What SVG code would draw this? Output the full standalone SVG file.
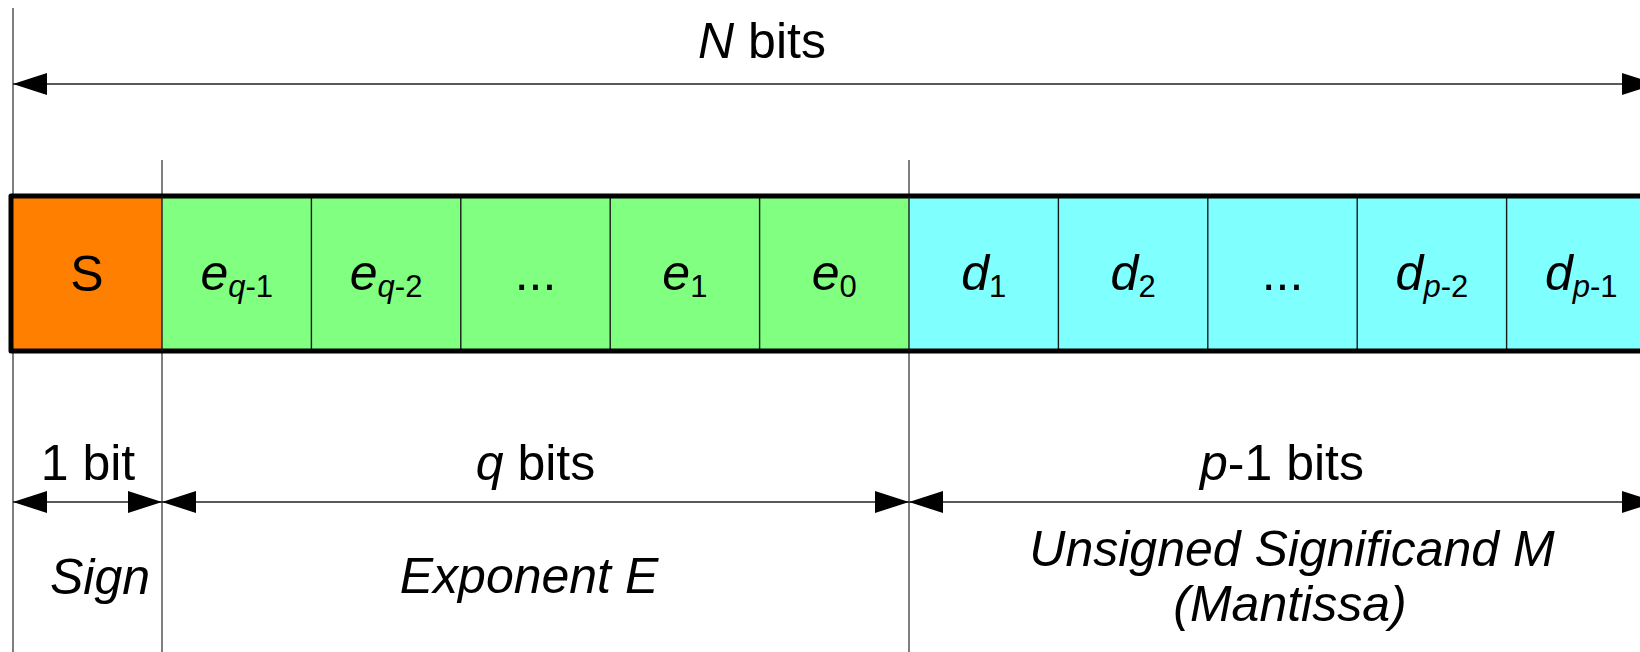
<svg xmlns="http://www.w3.org/2000/svg" width="1640" height="652" viewBox="0 0 1640 652">
<style>
text{font-family:"Liberation Sans",Arial,sans-serif;font-size:50px;fill:#000}
.i{font-style:italic}
.sub{font-size:31px}
.ext{stroke:#555;stroke-width:1.5;fill:none}
.dim{stroke:#222;stroke-width:1.6;fill:none;marker-start:url(#ah);marker-end:url(#ah)}
.div{stroke:#1a1a1a;stroke-width:1.4}
</style>
<defs>
<marker id="ah" viewBox="0 0 34 22" refX="34" refY="11" markerWidth="34" markerHeight="22" markerUnits="userSpaceOnUse" orient="auto-start-reverse">
<path d="M0,0 L34,11 L0,22 Z" fill="#000"/>
</marker>
</defs>
<g id="connectors">
<line class="ext" x1="13" y1="8" x2="13" y2="652"/>
<line class="ext" x1="162" y1="160" x2="162" y2="652"/>
<line class="ext" x1="909" y1="160" x2="909" y2="652"/>
<line class="ext" x1="1656" y1="8" x2="1656" y2="652"/>
<line class="dim" x1="13" y1="84" x2="1656" y2="84"/>
<line class="dim" x1="13" y1="502" x2="162" y2="502"/>
<line class="dim" x1="162" y1="502" x2="909" y2="502"/>
<line class="dim" x1="909" y1="502" x2="1656" y2="502"/>
</g>
<g id="sign">
<rect x="11" y="196" width="151" height="155" fill="#FF8000"/>
<text x="87" y="291" text-anchor="middle">S</text>
</g>
<g id="exponent">
<rect x="162" y="196" width="747" height="155" fill="#80FF80"/>
<line class="div" x1="311.4" y1="196" x2="311.4" y2="351"/>
<line class="div" x1="460.8" y1="196" x2="460.8" y2="351"/>
<line class="div" x1="610.2" y1="196" x2="610.2" y2="351"/>
<line class="div" x1="759.6" y1="196" x2="759.6" y2="351"/>
<text x="236.7" y="290" text-anchor="middle"><tspan class="i">e</tspan><tspan class="sub" dy="7"><tspan class="i">q</tspan>-1</tspan></text>
<text x="386.1" y="290" text-anchor="middle"><tspan class="i">e</tspan><tspan class="sub" dy="7"><tspan class="i">q</tspan>-2</tspan></text>
<text x="535.5" y="290" text-anchor="middle">...</text>
<text x="684.9" y="290" text-anchor="middle"><tspan class="i">e</tspan><tspan class="sub" dy="7">1</tspan></text>
<text x="834.3" y="290" text-anchor="middle"><tspan class="i">e</tspan><tspan class="sub" dy="7">0</tspan></text>
</g>
<g id="mantissa">
<rect x="909" y="196" width="747" height="155" fill="#80FFFF"/>
<line class="div" x1="1058.4" y1="196" x2="1058.4" y2="351"/>
<line class="div" x1="1207.8" y1="196" x2="1207.8" y2="351"/>
<line class="div" x1="1357.2" y1="196" x2="1357.2" y2="351"/>
<line class="div" x1="1506.6" y1="196" x2="1506.6" y2="351"/>
<text x="983.7" y="290" text-anchor="middle"><tspan class="i">d</tspan><tspan class="sub" dy="7">1</tspan></text>
<text x="1133.1" y="290" text-anchor="middle"><tspan class="i">d</tspan><tspan class="sub" dy="7">2</tspan></text>
<text x="1282.5" y="290" text-anchor="middle">...</text>
<text x="1431.9" y="290" text-anchor="middle"><tspan class="i">d</tspan><tspan class="sub" dy="7"><tspan class="i">p</tspan>-2</tspan></text>
<text x="1581.3" y="290" text-anchor="middle"><tspan class="i">d</tspan><tspan class="sub" dy="7"><tspan class="i">p</tspan>-1</tspan></text>
</g>
<g id="frame">
<rect x="11" y="196" width="1645" height="155" fill="none" stroke="#000" stroke-width="5" stroke-linejoin="round"/>
<line class="div" x1="162" y1="196" x2="162" y2="351"/>
<line class="div" x1="909" y1="196" x2="909" y2="351"/>
</g>
<g id="labels">
<text x="762" y="58" text-anchor="middle"><tspan class="i">N</tspan> bits</text>
<text x="88" y="480" text-anchor="middle">1 bit</text>
<text x="50" y="594" class="i">Sign</text>
<text x="535.5" y="480" text-anchor="middle"><tspan class="i">q</tspan> bits</text>
<text x="529" y="593" text-anchor="middle" class="i">Exponent E</text>
<text x="1282" y="480" text-anchor="middle"><tspan class="i">p</tspan>-1 bits</text>
<text x="1292" y="566" text-anchor="middle" class="i">Unsigned Significand M</text>
<text x="1290" y="621" text-anchor="middle" class="i">(Mantissa)</text>
</g>
</svg>
